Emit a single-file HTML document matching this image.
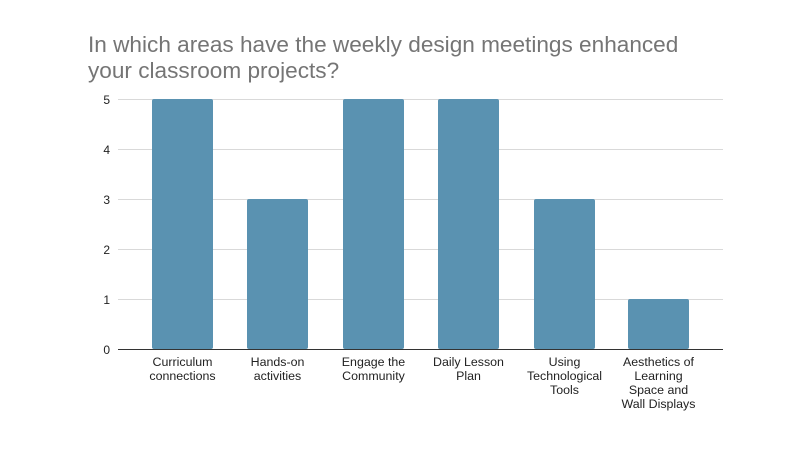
<!DOCTYPE html>
<html><head><meta charset="utf-8"><style>
html,body{margin:0;padding:0;background:#fff;}
svg{display:block;}
text{font-family:"Liberation Sans",Arial,sans-serif;}
</style></head><body>
<svg width="800" height="450" xmlns="http://www.w3.org/2000/svg">
<text x="88" y="52" font-size="22.6" fill="#757575">In which areas have the weekly design meetings enhanced</text>
<text x="88" y="78" font-size="22.6" fill="#757575">your classroom projects?</text>
<g stroke="#d9d9d9" stroke-width="1">
<line x1="118" x2="723" y1="99.5" y2="99.5"/>
<line x1="118" x2="723" y1="149.5" y2="149.5"/>
<line x1="118" x2="723" y1="199.5" y2="199.5"/>
<line x1="118" x2="723" y1="249.5" y2="249.5"/>
<line x1="118" x2="723" y1="299.5" y2="299.5"/>
</g>
<g font-size="12" fill="#222" text-anchor="end">
<text x="110" y="104">5</text><text x="110" y="154">4</text><text x="110" y="204">3</text>
<text x="110" y="254">2</text><text x="110" y="304">1</text><text x="110" y="354">0</text>
</g>
<g fill="#5a92b1">
<rect x="152" y="99" width="61" height="250" rx="2"/>
<rect x="247" y="199" width="61" height="150" rx="2"/>
<rect x="343" y="99" width="61" height="250" rx="2"/>
<rect x="438" y="99" width="61" height="250" rx="2"/>
<rect x="534" y="199" width="61" height="150" rx="2"/>
<rect x="628" y="299" width="61" height="50" rx="2"/>
</g>
<line x1="118" x2="723" y1="349.5" y2="349.5" stroke="#333" stroke-width="1"/>
<g font-size="12.4" fill="#222" text-anchor="middle">
<text x="182.5" y="366">Curriculum</text><text x="182.5" y="380">connections</text>
<text x="277.5" y="366">Hands-on</text><text x="277.5" y="380">activities</text>
<text x="373.5" y="366">Engage the</text><text x="373.5" y="380">Community</text>
<text x="468.5" y="366">Daily Lesson</text><text x="468.5" y="380">Plan</text>
<text x="564.5" y="366">Using</text><text x="564.5" y="380">Technological</text><text x="564.5" y="394">Tools</text>
<text x="658.5" y="366">Aesthetics of</text><text x="658.5" y="380">Learning</text><text x="658.5" y="394">Space and</text><text x="658.5" y="408">Wall Displays</text>
</g>
</svg>
</body></html>
